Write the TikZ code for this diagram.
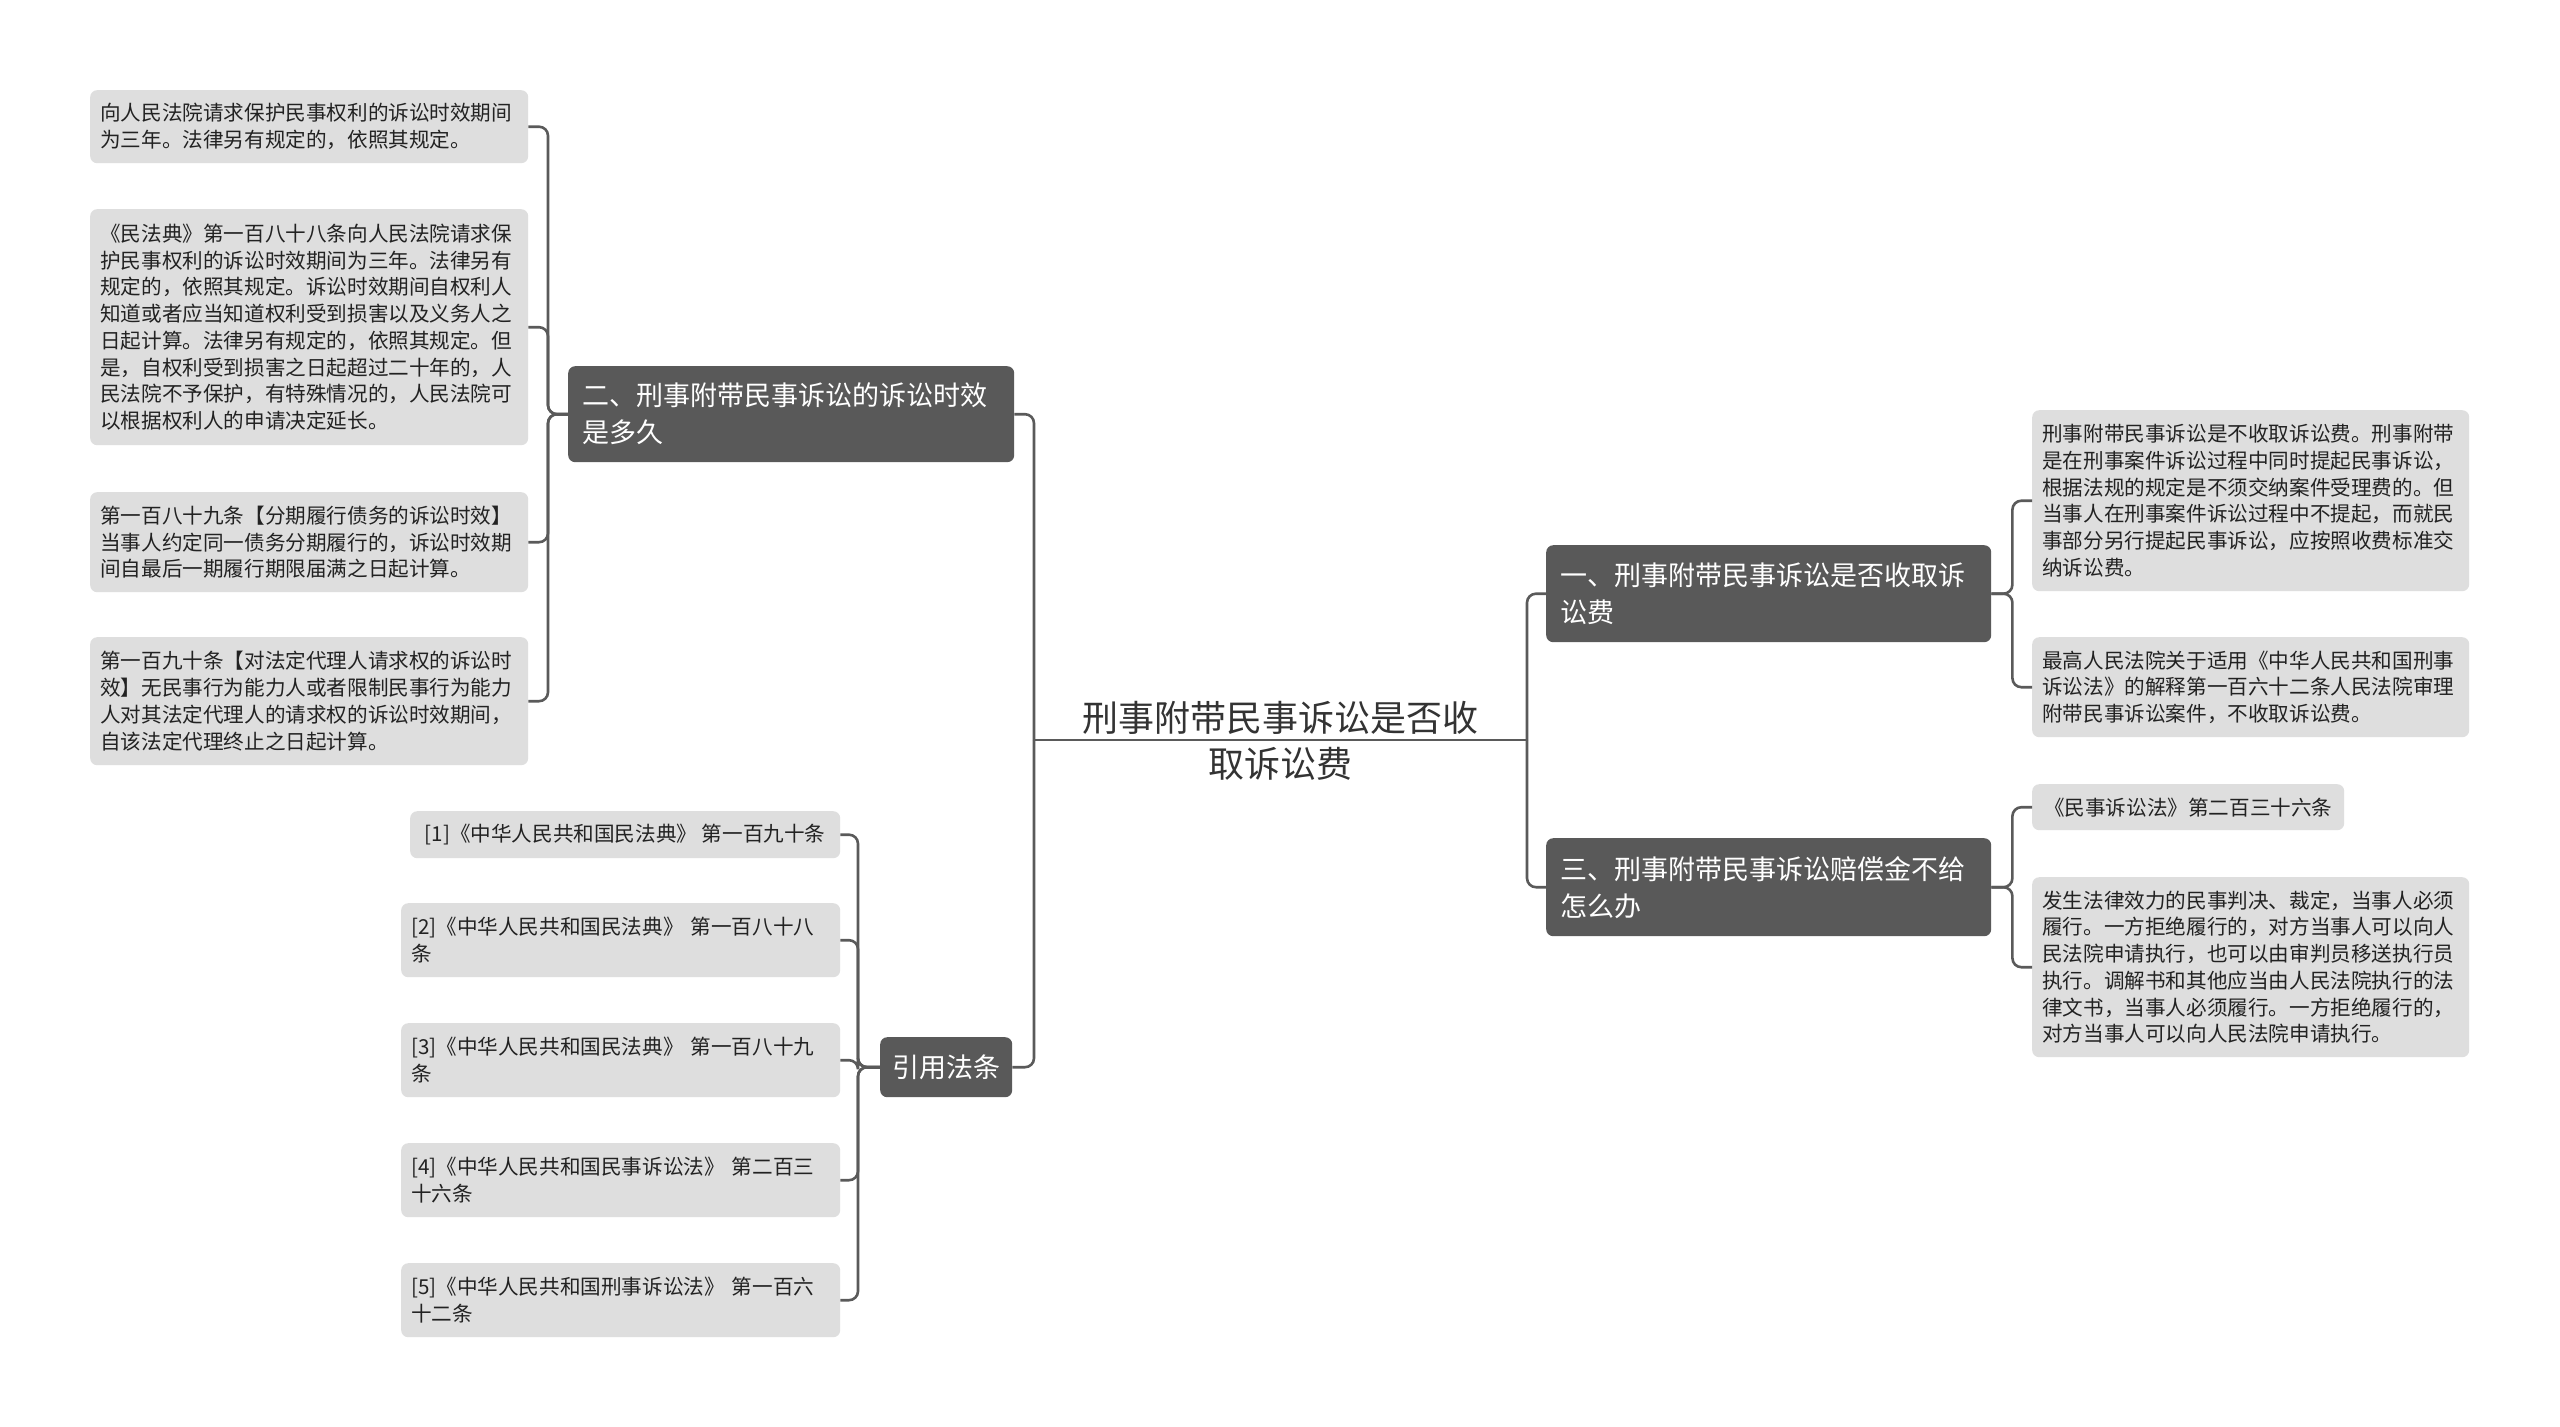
\documentclass[tikz,border=0pt]{standalone}
\usepackage{fontspec}
\setmainfont{Noto Sans CJK SC}
\definecolor{darkbox}{HTML}{595959}
\definecolor{leafbox}{HTML}{DEDEDE}
\definecolor{conncol}{HTML}{5A5A5A}
\definecolor{leaftext}{HTML}{222222}
\definecolor{roottext}{HTML}{333333}
\begin{document}
\begin{tikzpicture}[x=1pt,y=-1pt,
  darknode/.style={rectangle, rounded corners=7pt, fill=darkbox, text=white,
    font=\fontsize{27}{37}\selectfont, anchor=north west, inner xsep=14pt, inner ysep=0pt, align=left},
  leafnode/.style={rectangle, rounded corners=7pt, fill=leafbox, text=leaftext,
    font=\fontsize{20.6}{26.7}\selectfont, anchor=north west, inner xsep=10pt, inner ysep=0pt, align=left},
  conn/.style={draw=conncol, line width=2.6pt, rounded corners=9pt}]
\useasboundingbox (0,0) rectangle (2560,1427);
\fill[white] (0,0) rectangle (2560,1427);

% main branch nodes
\node[darknode, minimum width=446pt, minimum height=96pt, text width=418pt] (n2) at (568,366)
  {二、刑事附带民事诉讼的诉讼时效\\是多久};
\node[darknode, minimum width=445pt, minimum height=97pt, text width=417pt] (n1) at (1546,545)
  {一、刑事附带民事诉讼是否收取诉\\讼费};
\node[darknode, minimum width=445pt, minimum height=98pt, text width=417pt] (n3) at (1546,838)
  {三、刑事附带民事诉讼赔偿金不给\\怎么办};
\node[darknode, minimum width=132pt, minimum height=60pt, align=center, inner xsep=0pt] (ref) at (880,1037)
  {引用法条};

% left leaves
\node[leafnode, minimum width=438pt, minimum height=73pt, text width=418pt] (l1) at (90,90)
  {向人民法院请求保护民事权利的诉讼时效期间\\为三年。法律另有规定的，依照其规定。};
\node[leafnode, minimum width=438pt, minimum height=236pt, text width=418pt] (l2) at (90,209)
  {《民法典》第一百八十八条向人民法院请求保\\护民事权利的诉讼时效期间为三年。法律另有\\规定的，依照其规定。诉讼时效期间自权利人\\知道或者应当知道权利受到损害以及义务人之\\日起计算。法律另有规定的，依照其规定。但\\是，自权利受到损害之日起超过二十年的，人\\民法院不予保护，有特殊情况的，人民法院可\\以根据权利人的申请决定延长。};
\node[leafnode, minimum width=438pt, minimum height=100pt, text width=418pt] (l3) at (90,492)
  {第一百八十九条【分期履行债务的诉讼时效】\\当事人约定同一债务分期履行的，诉讼时效期\\间自最后一期履行期限届满之日起计算。};
\node[leafnode, minimum width=438pt, minimum height=128pt, text width=418pt] (l4) at (90,637)
  {第一百九十条【对法定代理人请求权的诉讼时\\效】无民事行为能力人或者限制民事行为能力\\人对其法定代理人的请求权的诉讼时效期间，\\自该法定代理终止之日起计算。};

% reference leaves
\node[leafnode, minimum width=430pt, minimum height=47pt, align=center, inner xsep=0pt] (r1) at (410,811)
  {[1]《中华人民共和国民法典》 第一百九十条};
\node[leafnode, minimum width=439pt, minimum height=74pt, text width=419pt] (r2) at (401,903)
  {[2]《中华人民共和国民法典》 第一百八十八\\条};
\node[leafnode, minimum width=439pt, minimum height=74pt, text width=419pt] (r3) at (401,1023)
  {[3]《中华人民共和国民法典》 第一百八十九\\条};
\node[leafnode, minimum width=439pt, minimum height=74pt, text width=419pt] (r4) at (401,1143)
  {[4]《中华人民共和国民事诉讼法》 第二百三\\十六条};
\node[leafnode, minimum width=439pt, minimum height=74pt, text width=419pt] (r5) at (401,1263)
  {[5]《中华人民共和国刑事诉讼法》 第一百六\\十二条};

% right leaves
\node[leafnode, minimum width=437pt, minimum height=181pt, text width=417pt] (ra) at (2032,410)
  {刑事附带民事诉讼是不收取诉讼费。刑事附带\\是在刑事案件诉讼过程中同时提起民事诉讼，\\根据法规的规定是不须交纳案件受理费的。但\\当事人在刑事案件诉讼过程中不提起，而就民\\事部分另行提起民事诉讼，应按照收费标准交\\纳诉讼费。};
\node[leafnode, minimum width=437pt, minimum height=100pt, text width=417pt] (rb) at (2032,637)
  {最高人民法院关于适用《中华人民共和国刑事\\诉讼法》的解释第一百六十二条人民法院审理\\附带民事诉讼案件，不收取诉讼费。};
\node[leafnode, minimum width=312pt, minimum height=46pt, align=center, inner xsep=0pt] (rc) at (2032,784)
  {《民事诉讼法》第二百三十六条};
\node[leafnode, minimum width=437pt, minimum height=180pt, text width=417pt] (rd) at (2032,877)
  {发生法律效力的民事判决、裁定，当事人必须\\履行。一方拒绝履行的，对方当事人可以向人\\民法院申请执行，也可以由审判员移送执行员\\执行。调解书和其他应当由人民法院执行的法\\律文书，当事人必须履行。一方拒绝履行的，\\对方当事人可以向人民法院申请执行。};

% connectors
\coordinate (lb) at (1034,740);
\coordinate (rbr) at (1527,740);
\draw[conn] (lb) -- (rbr);
\draw[conn] (lb) |- (n2.east);
\draw[conn] (lb) |- (ref.east);
\draw[conn] (rbr) |- (n1.west);
\draw[conn] (rbr) |- (n3.west);

\foreach \c in {l1,l2,l3,l4} \draw[conn] (n2.west) -- ++(-20,0) |- (\c.east);
\foreach \c in {r1,r2,r3,r4,r5} \draw[conn] (ref.west) -- ++(-22,0) |- (\c.east);
\foreach \c in {ra,rb} \draw[conn] (n1.east) -- ++(21,0) |- (\c.west);
\foreach \c in {rc,rd} \draw[conn] (n3.east) -- ++(21,0) |- (\c.west);

% root
\node[font=\fontsize{36}{46}\selectfont, text=roottext, align=center] (root) at (1280,741)
  {刑事附带民事诉讼是否收\\取诉讼费};
\end{tikzpicture}
\end{document}
